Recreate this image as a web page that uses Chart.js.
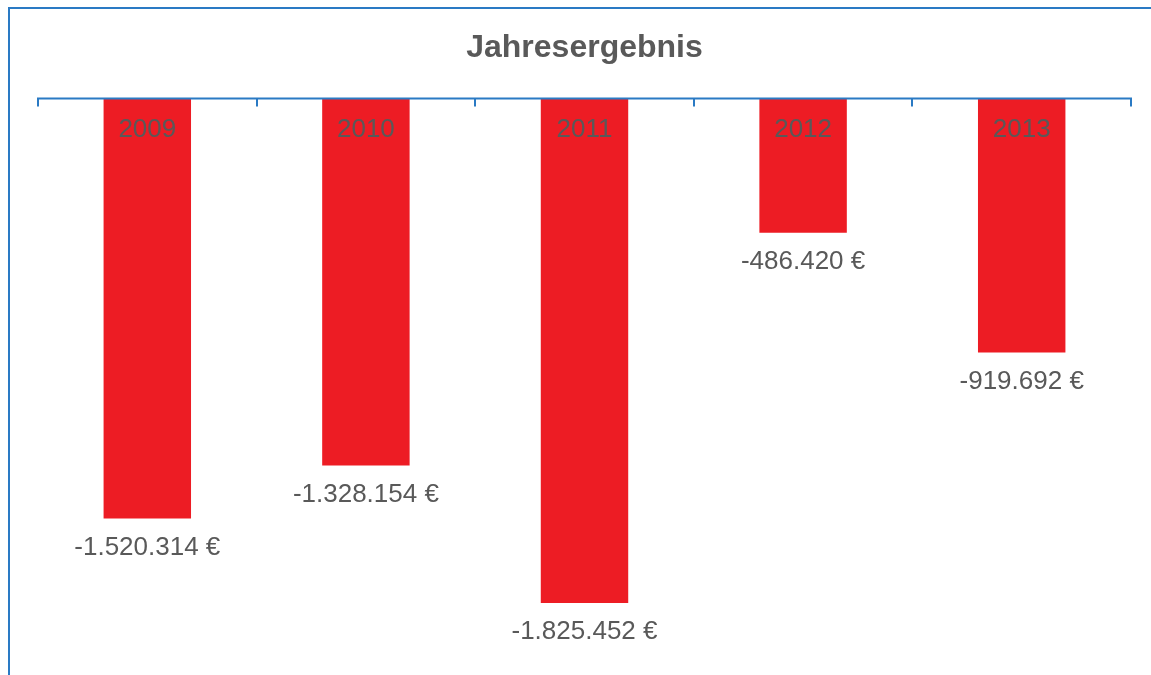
<!DOCTYPE html>
<html>
<head>
<meta charset="utf-8">
<script src="https://cdn.jsdelivr.net/npm/chart.js@4.4.1/dist/chart.umd.min.js"></script>
<style>
  html, body { margin: 0; padding: 0; background: #fff; overflow: hidden; }
  #frame { position: absolute; left: 8px; top: 7px; width: 1300px; height: 800px;
           border-left: 2px solid #2a7ac4; border-top: 2px solid #2a7ac4; }
  #jahr { position: absolute; left: 0; top: 0; }
</style>
</head>
<body>
<div id="frame"></div>
<canvas id="jahr" width="1151" height="675"></canvas>
<script>
let years = ["2009", "2010", "2011", "2012", "2013"];
let ergebnis = [-1520314, -1328154, -1825452, -486420, -919692];

const textColor = "#595959";
const blue = "#2a7ac4";
const font = "Liberation Sans, Arial, sans-serif";

function euro(v) {
    // German number format: -1.520.314 €
    let s = Math.abs(v).toString().replace(/\B(?=(\d{3})+(?!\d))/g, ".");
    return (v < 0 ? "-" : "") + s + " €";
}

// axis line on top, tick marks pointing down, labels inside the bars
const topAxis = {
    id: "topAxis",
    afterDatasetsDraw(chart) {
        const ctx = chart.ctx;
        const x = chart.scales.x;
        const y = chart.scales.y;
        const y0 = y.getPixelForValue(0);
        const step = (x.right - x.left) / years.length;

        ctx.save();
        ctx.strokeStyle = blue;
        ctx.lineWidth = 2;
        ctx.beginPath();
        ctx.moveTo(x.left, y0);
        ctx.lineTo(x.right, y0);
        for (let i = 0; i <= years.length; i++) {
            let px = Math.round(x.getPixelForValue(0) - step / 2 + i * step);
            ctx.moveTo(px, y0 - 1);
            ctx.lineTo(px, y0 + 8);
        }
        ctx.stroke();

        ctx.fillStyle = textColor;
        ctx.font = "26px " + font;
        ctx.textAlign = "center";
        ctx.textBaseline = "middle";
        const meta = chart.getDatasetMeta(0);
        years.forEach((yr, i) => {
            let cx = x.getPixelForValue(i);
            ctx.fillText(yr, cx, y0 + 31);
            let bar = meta.data[i];
            ctx.fillText(euro(ergebnis[i]), cx, bar.y + 29);
        });
        ctx.restore();
    }
};

new Chart(document.getElementById("jahr"), {
    type: "bar",
    data: {
        labels: years,
        datasets: [{
            data: ergebnis,
            backgroundColor: "#ed1c24",
            borderWidth: 0,
            barPercentage: 0.4,
            categoryPercentage: 1
        }]
    },
    options: {
        responsive: false,
        animation: false,
        layout: { padding: { left: 38, right: 20, top: 0, bottom: 10 } },
        plugins: {
            legend: { display: false },
            tooltip: { enabled: false },
            title: {
                display: true,
                text: "Jahresergebnis",
                color: textColor,
                font: { family: font, size: 32, weight: "bold" },
                padding: { top: 29, bottom: 31 }
            }
        },
        scales: {
            x: { display: false },
            y: { display: false, min: -2050000, max: 0 }
        }
    },
    plugins: [topAxis]
});
</script>
</body>
</html>
